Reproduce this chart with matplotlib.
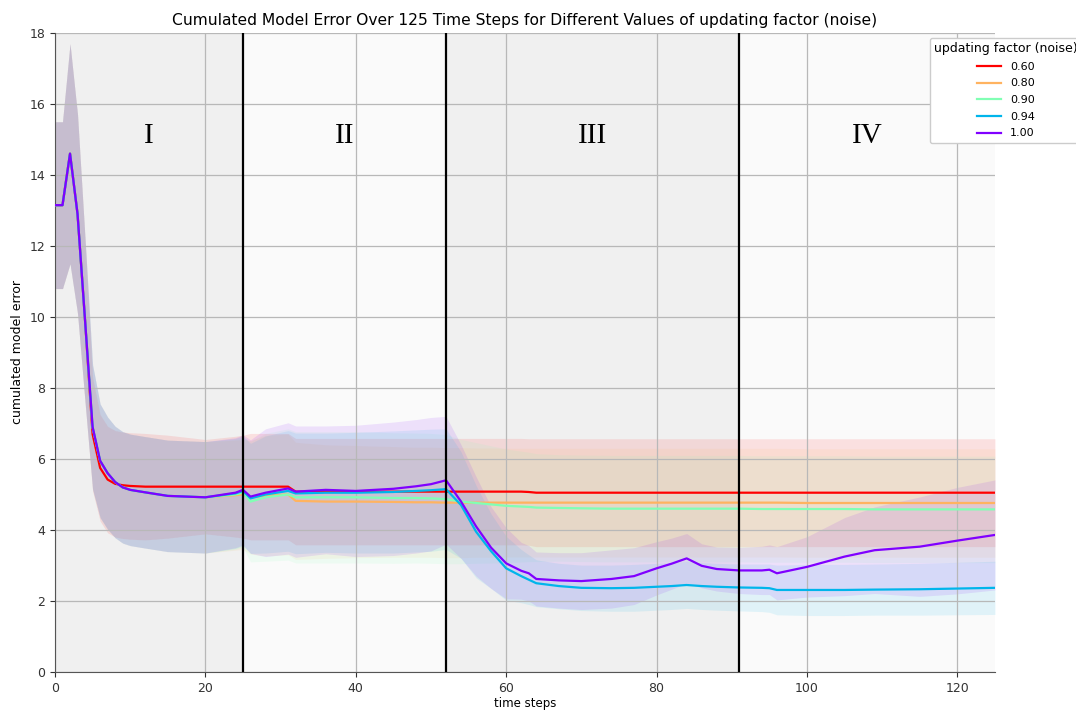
import numpy as np
import matplotlib
matplotlib.use("Agg")
import matplotlib.pyplot as plt

# time steps at which the averaged runs are sampled
steps = [0, 1, 2, 3, 4, 5, 6, 7, 8, 9, 10, 12, 15, 20, 24, 25, 26, 28, 31, 32,
         36, 40, 45, 48, 50, 52, 54, 56, 58, 60, 62, 63, 64, 67, 70, 74, 77, 80, 82, 84,
         86, 88, 91, 94, 95, 96, 100, 105, 109, 115, 120, 125]

factors = ["0.60", "0.80", "0.90", "0.94", "1.00"]

# mean cumulated model error per updating factor
err_060 = [13.15, 13.15, 14.6, 12.9, 9.9, 6.7, 5.75, 5.42, 5.3, 5.26, 5.24, 5.22, 5.22, 5.22, 5.22, 5.22, 5.22, 5.22, 5.22, 5.08,
           5.08, 5.08, 5.08, 5.08, 5.08, 5.08, 5.08, 5.08, 5.08, 5.08, 5.08, 5.07, 5.05, 5.05, 5.05, 5.05, 5.05, 5.05, 5.05, 5.05,
           5.05, 5.05, 5.05, 5.05, 5.05, 5.05, 5.05, 5.05, 5.05, 5.05, 5.05, 5.05]
err_080 = [13.15, 13.15, 14.6, 12.9, 9.9, 6.9, 5.95, 5.6, 5.35, 5.2, 5.13, 5.06, 4.96, 4.92, 4.98, 5.0, 4.92, 4.97, 5.0, 4.82,
           4.8, 4.8, 4.79, 4.78, 4.78, 4.77, 4.77, 4.77, 4.77, 4.77, 4.77, 4.77, 4.77, 4.77, 4.77, 4.77, 4.77, 4.77, 4.77, 4.77,
           4.77, 4.77, 4.77, 4.77, 4.77, 4.77, 4.76, 4.76, 4.76, 4.76, 4.76, 4.76]
err_090 = [13.15, 13.15, 14.6, 12.9, 9.9, 6.9, 5.95, 5.6, 5.35, 5.2, 5.13, 5.06, 4.96, 4.92, 5.0, 5.05, 4.8, 4.92, 5.0, 4.92,
           4.92, 4.92, 4.9, 4.9, 4.89, 4.87, 4.8, 4.76, 4.72, 4.68, 4.66, 4.65, 4.63, 4.62, 4.61, 4.6, 4.6, 4.6, 4.6, 4.6,
           4.6, 4.6, 4.6, 4.59, 4.59, 4.59, 4.59, 4.59, 4.58, 4.58, 4.58, 4.58]
err_094 = [13.15, 13.15, 14.6, 12.9, 9.9, 6.9, 5.95, 5.6, 5.35, 5.2, 5.13, 5.06, 4.96, 4.92, 5.03, 5.1, 4.89, 5.0, 5.1, 5.03,
           5.05, 5.05, 5.07, 5.1, 5.12, 5.15, 4.7, 3.95, 3.4, 2.92, 2.7, 2.6, 2.5, 2.42, 2.37, 2.36, 2.37, 2.4, 2.42, 2.45,
           2.42, 2.4, 2.38, 2.37, 2.36, 2.31, 2.31, 2.31, 2.32, 2.33, 2.35, 2.37]
err_100 = [13.15, 13.15, 14.6, 12.9, 9.9, 6.9, 5.95, 5.6, 5.35, 5.2, 5.13, 5.06, 4.96, 4.92, 5.05, 5.13, 4.94, 5.05, 5.17, 5.08,
           5.13, 5.1, 5.16, 5.23, 5.29, 5.4, 4.8, 4.1, 3.5, 3.06, 2.85, 2.78, 2.62, 2.58, 2.56, 2.62, 2.7, 2.92, 3.05, 3.2,
           2.99, 2.9, 2.86, 2.86, 2.88, 2.78, 2.96, 3.25, 3.43, 3.53, 3.7, 3.86]

# standard deviation across runs
sd_060 = [2.35, 2.35, 3.1, 2.8, 2.3, 1.6, 1.5, 1.5, 1.5, 1.5, 1.5, 1.5, 1.45, 1.33, 1.42, 1.45, 1.5, 1.5, 1.5, 1.5,
          1.5, 1.5, 1.5, 1.5, 1.5, 1.5, 1.5, 1.5, 1.5, 1.5, 1.5, 1.5, 1.52, 1.52, 1.52, 1.52, 1.52, 1.52, 1.52, 1.52,
          1.52, 1.52, 1.52, 1.52, 1.52, 1.52, 1.52, 1.52, 1.52, 1.52, 1.52, 1.52]
sd_080 = [2.35, 2.35, 3.1, 2.8, 2.3, 1.75, 1.6, 1.58, 1.57, 1.57, 1.57, 1.57, 1.57, 1.57, 1.55, 1.55, 1.6, 1.7, 1.7, 1.65,
          1.6, 1.58, 1.56, 1.55, 1.55, 1.55, 1.55, 1.54, 1.54, 1.53, 1.53, 1.53, 1.53, 1.53, 1.53, 1.53, 1.53, 1.53, 1.53, 1.53,
          1.53, 1.53, 1.53, 1.53, 1.53, 1.53, 1.53, 1.53, 1.53, 1.53, 1.53, 1.53]
sd_090 = [2.35, 2.35, 3.1, 2.8, 2.3, 1.75, 1.6, 1.58, 1.57, 1.57, 1.57, 1.57, 1.57, 1.57, 1.55, 1.55, 1.7, 1.8, 1.85, 1.85,
          1.85, 1.85, 1.84, 1.83, 1.83, 1.82, 1.75, 1.7, 1.65, 1.6, 1.56, 1.54, 1.52, 1.5, 1.5, 1.5, 1.5, 1.5, 1.5, 1.5,
          1.5, 1.5, 1.5, 1.5, 1.5, 1.5, 1.5, 1.5, 1.5, 1.5, 1.5, 1.5]
sd_094 = [2.35, 2.35, 3.1, 2.8, 2.3, 1.75, 1.6, 1.58, 1.57, 1.57, 1.57, 1.57, 1.57, 1.57, 1.55, 1.55, 1.55, 1.65, 1.7, 1.7,
          1.68, 1.7, 1.72, 1.72, 1.72, 1.7, 1.5, 1.3, 1.05, 0.9, 0.75, 0.7, 0.66, 0.64, 0.64, 0.65, 0.66, 0.66, 0.66, 0.66,
          0.66, 0.66, 0.66, 0.67, 0.68, 0.7, 0.72, 0.72, 0.72, 0.73, 0.74, 0.75]
sd_100 = [2.35, 2.35, 3.1, 2.8, 2.3, 1.75, 1.6, 1.58, 1.57, 1.57, 1.57, 1.57, 1.57, 1.57, 1.55, 1.55, 1.6, 1.8, 1.85, 1.85,
          1.8, 1.85, 1.88, 1.88, 1.88, 1.8, 1.6, 1.4, 1.15, 1.0, 0.8, 0.78, 0.76, 0.78, 0.8, 0.82, 0.8, 0.75, 0.72, 0.7,
          0.62, 0.62, 0.65, 0.68, 0.7, 0.75, 0.85, 1.1, 1.22, 1.4, 1.5, 1.55]

# experiment phases: boundaries and labels
phase_edges = [0, 25, 52, 91, 125]
phase_labels = ["I", "II", "III", "IV"]

means = [err_060, err_080, err_090, err_094, err_100]
sds = [sd_060, sd_080, sd_090, sd_094, sd_100]
colors = plt.cm.rainbow(np.linspace(1, 0, len(factors)))

fig = plt.figure(figsize=(10.76, 7.11), dpi=100)
ax = fig.add_axes([0.0511, 0.0549, 0.8736, 0.8987])

# alternating shaded phases
for i in range(len(phase_labels)):
    ax.axvspan(phase_edges[i], phase_edges[i + 1],
               color="#f0f0f0" if i % 2 == 0 else "#fafafa", zorder=0, lw=0)

t = np.array(steps, dtype=float)
for lab, m, s, c in zip(factors, means, sds, colors):
    m = np.array(m)
    s = np.array(s)
    ax.fill_between(t, m - s, m + s, color=c, alpha=0.1, lw=0, zorder=1)
    ax.plot(t, m, color=c, lw=1.6, label=lab, zorder=3)

for x in phase_edges[1:-1]:
    ax.axvline(x, color="black", lw=1.6, zorder=4)

for i, lab in enumerate(phase_labels):
    ax.text((phase_edges[i] + phase_edges[i + 1]) / 2, 15.1, lab,
            ha="center", va="center", fontsize=21, family="Liberation Serif", zorder=5)

ax.set_xlim(0, 125)
ax.set_ylim(0, 18)
ax.set_xticks(range(0, 121, 20))
ax.set_yticks(range(0, 19, 2))
ax.grid(True, color="#b8b8b8", lw=0.9)
ax.spines["top"].set_visible(False)
ax.spines["right"].set_visible(False)
for sp in ("left", "bottom"):
    ax.spines[sp].set_color("#555555")
ax.tick_params(labelsize=9, colors="#333333")

ax.set_xlabel("time steps", fontsize=8.5, labelpad=1.5)
ax.set_ylabel("cumulated model error", fontsize=9)
ax.set_title("Cumulated Model Error Over 125 Time Steps for Different Values of updating factor (noise)",
             fontsize=11.2)

ax.legend(title="updating factor (noise)", loc="upper left",
          bbox_to_anchor=(0.864, 0.947), bbox_transform=fig.transFigure,
          borderaxespad=0, fontsize=8, title_fontsize=9, framealpha=1.0,
          handlelength=2.2, labelspacing=0.6)

fig.savefig("out.png", dpi=100)
